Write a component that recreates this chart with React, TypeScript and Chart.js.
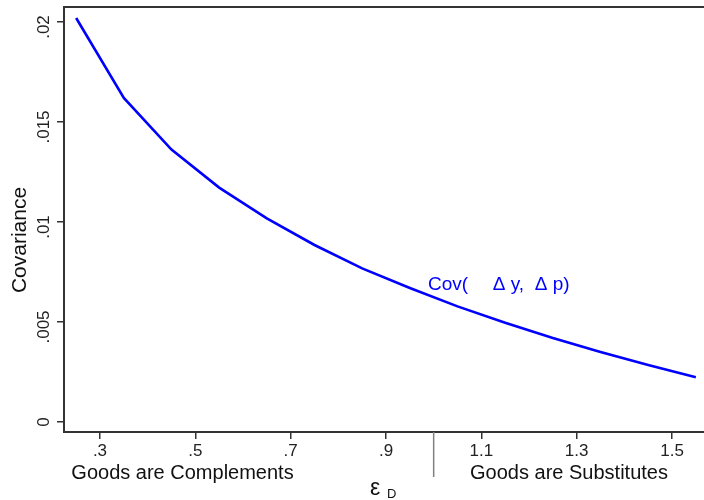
import React, { useEffect, useRef } from "react";
import { Chart, registerables } from "chart.js";

Chart.register(...registerables);

const elasticity = [0.25, 0.35, 0.45, 0.55, 0.65, 0.75, 0.85, 0.95, 1.05, 1.15, 1.25, 1.35, 1.45, 1.55];
const covariance = [0.0202, 0.0162, 0.01362, 0.01172, 0.01018, 0.00885, 0.00768, 0.0067, 0.00578, 0.00496, 0.0042, 0.0035, 0.00285, 0.00224];
const xTickValues = [0.3, 0.5, 0.7, 0.9, 1.1, 1.3, 1.5];
const xTickLabels = [".3", ".5", ".7", ".9", "1.1", "1.3", "1.5"];
const yTickValues = [0, 0.005, 0.01, 0.015, 0.02];
const yTickLabels = ["0", ".005", ".01", ".015", ".02"];
const seriesLabel = ["Cov(", "\u0394 y,", "\u0394 p)"];
const regionLabels = ["Goods are Complements", "Goods are Substitutes"];
const regionSplit = 1.0;

const FONT = "'Liberation Sans', Arial, sans-serif";

const annotate = {
  id: "annotate",
  afterDraw(chart: any) {
    const ctx = chart.ctx;
    const xs = chart.scales.x;
    const ys = chart.scales.y;
    const area = chart.chartArea;
    ctx.save();
    // top border
    ctx.strokeStyle = "#333";
    ctx.lineWidth = 2;
    ctx.beginPath();
    ctx.moveTo(area.left, area.top);
    ctx.lineTo(chart.width, area.top);
    ctx.stroke();

    // y tick labels (rotated)
    ctx.fillStyle = "#222";
    ctx.font = `17px ${FONT}`;
    yTickValues.forEach((v, i) => {
      const py = ys.getPixelForValue(v);
      const lbl = yTickLabels[i];
      const shift = lbl.startsWith(".") ? 5 : 0;
      ctx.save();
      ctx.translate(49, py + shift);
      ctx.rotate(-Math.PI / 2);
      ctx.textAlign = "center";
      ctx.textBaseline = "alphabetic";
      ctx.fillText(lbl, 0, 0);
      ctx.restore();
    });

    // y axis title
    ctx.save();
    ctx.font = `21px ${FONT}`;
    ctx.fillStyle = "#111";
    ctx.translate(26, 240);
    ctx.rotate(-Math.PI / 2);
    ctx.textAlign = "center";
    ctx.textBaseline = "alphabetic";
    ctx.fillText("Covariance", 0, 0);
    ctx.restore();

    // separator line at x = 1
    const sx = xs.getPixelForValue(regionSplit);
    ctx.strokeStyle = "#808080";
    ctx.lineWidth = 1.5;
    ctx.beginPath();
    ctx.moveTo(sx, area.bottom);
    ctx.lineTo(sx, area.bottom + 45);
    ctx.stroke();

    // region labels
    ctx.font = `20px ${FONT}`;
    ctx.fillStyle = "#111";
    ctx.textAlign = "center";
    ctx.textBaseline = "alphabetic";
    ctx.fillText(regionLabels[0], 182.5, 479);
    ctx.fillText(regionLabels[1], 569, 479);

    // epsilon_D
    ctx.textAlign = "left";
    ctx.font = `23px ${FONT}`;
    ctx.fillText("\u03B5", 370, 495);
    ctx.font = `13px ${FONT}`;
    ctx.fillText("D", 387, 498);

    // series label
    ctx.fillStyle = "#0000ff";
    ctx.font = `19px ${FONT}`;
    const by = ys.getPixelForValue(0.0066);
    ctx.fillText(seriesLabel[0], xs.getPixelForValue(0.988), by);
    ctx.fillText(seriesLabel[1], xs.getPixelForValue(1.124), by);
    ctx.fillText(seriesLabel[2], xs.getPixelForValue(1.212), by);
    ctx.restore();
  },
};

export default function App() {
  const ref = useRef<HTMLCanvasElement>(null);
  useEffect(() => {
    if (!ref.current) return;
    const chart = new Chart(ref.current, {
      type: "line",
      data: {
        datasets: [
          {
            data: elasticity.map((x, i) => ({ x, y: covariance[i] })),
            borderColor: "#0000ff",
            borderWidth: 2.6,
            pointRadius: 0,
            tension: 0,
            fill: false,
          },
        ],
      },
      options: {
        animation: false,
        responsive: false,
        devicePixelRatio: 1,
        layout: { padding: { top: 7, left: 0, right: 0, bottom: 0 } },
        plugins: { legend: { display: false }, tooltip: { enabled: false } },
        scales: {
          x: {
            type: "linear",
            min: 0.2245,
            max: 1.5671,
            afterBuildTicks: (s: any) => {
              s.ticks = xTickValues.map((v) => ({ value: v }));
            },
            afterFit: (s: any) => {
              s.height = 68;
            },
            ticks: {
              autoSkip: false,
              maxRotation: 0,
              minRotation: 0,
              padding: 2,
              color: "#222",
              font: { family: FONT, size: 17 },
              callback: (_v: any, i: number) => xTickLabels[i],
            },
            grid: { drawOnChartArea: false, drawTicks: true, tickLength: 7, color: "#333", lineWidth: 1.5 },
            border: { display: true, color: "#333", width: 2 },
          },
          y: {
            type: "linear",
            min: -0.0005,
            max: 0.02075,
            afterBuildTicks: (s: any) => {
              s.ticks = yTickValues.map((v) => ({ value: v }));
            },
            afterFit: (s: any) => {
              s.width = 64;
            },
            ticks: { display: false },
            grid: { drawOnChartArea: false, drawTicks: true, tickLength: 7, color: "#333", lineWidth: 1.5 },
            border: { display: true, color: "#333", width: 2 },
          },
        },
      },
      plugins: [annotate],
    });
    return () => chart.destroy();
  }, []);
  return (
    <div style={{ position: "fixed", left: 0, top: 0, width: 704, height: 500, background: "#fff" }}>
      <canvas ref={ref} width={704} height={500} style={{ display: "block" }} />
    </div>
  );
}
